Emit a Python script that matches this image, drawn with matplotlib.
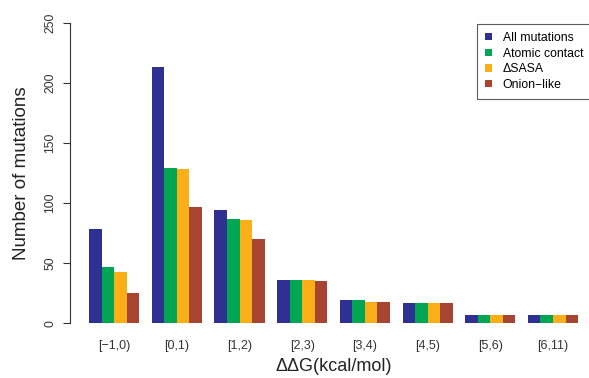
import matplotlib
matplotlib.use("Agg")
import matplotlib.pyplot as plt
import numpy as np
from matplotlib.patches import Patch

plt.rcParams['font.family'] = ['Liberation Sans', 'DejaVu Sans']

# data
bins = ["[\u22121,0)", "[0,1)", "[1,2)", "[2,3)", "[3,4)", "[4,5)", "[5,6)", "[6,11)"]
all_mut = [78, 213, 94, 36, 19, 17, 7, 7]
atomic = [47, 129, 87, 36, 19, 17, 7, 7]
dsasa = [43, 128, 86, 36, 18, 17, 7, 7]
onion = [25, 97, 70, 35, 18, 17, 7, 7]

names = ["All mutations", "Atomic contact", "\u0394SASA", "Onion\u2212like"]
colors = ["#2E3192", "#00A651", "#FAAF19", "#A84532"]

fig = plt.figure(figsize=(5.89, 3.78), dpi=100)
ax = fig.add_axes([70 / 589, 0.113, 1 - 70 / 589, 0.9717 - 0.113])

# R-style beside barplot: groups of 4 bars + 1 gap
series = [all_mut, atomic, dsasa, onion]
g = np.arange(len(bins))
for j, (vals, col) in enumerate(zip(series, colors)):
    ax.bar(1.5 + 5 * g + j, vals, width=1.0, color=col, linewidth=0)

ax.set_xlim(-0.52, 40.87)
ax.set_ylim(-10, 260)

ax.set_xticks(3 + 5 * g)
ax.set_xticklabels(bins, fontsize=9, color="#333333")
ax.tick_params(axis="x", length=0, pad=3.5)

ax.set_yticks([0, 50, 100, 150, 200, 250])
ax.set_yticklabels(["0", "50", "100", "150", "200", "250"], rotation=90,
                   va="center", fontsize=8.8, color="#333333")
ax.tick_params(axis="y", length=5, width=0.8, color="#333333", pad=5)

for s in ["top", "right", "bottom"]:
    ax.spines[s].set_visible(False)
ax.spines["left"].set_bounds(0, 250)
ax.spines["left"].set_color("#333333")
ax.spines["left"].set_linewidth(0.8)

ax.set_ylabel("Number of mutations", fontsize=13.5, color="#222222", labelpad=10)
ax.set_xlabel("\u0394\u0394G(kcal/mol)", fontsize=13, color="#222222", labelpad=5)
ax.xaxis.set_label_coords(0.508, -0.07)

handles = [Patch(facecolor=c, edgecolor="none") for c in colors]
leg = fig.legend(handles, names, loc="upper left",
                 bbox_to_anchor=(477 / 589, 1 - 24 / 378), fontsize=8.8,
                 frameon=True, fancybox=False, handlelength=0.55,
                 handleheight=0.55, handletextpad=0.9, labelspacing=0.3,
                 borderpad=0.65, borderaxespad=0)
leg.get_frame().set_edgecolor("#333333")
leg.get_frame().set_linewidth(0.8)

fig.savefig("out.png", dpi=100)
